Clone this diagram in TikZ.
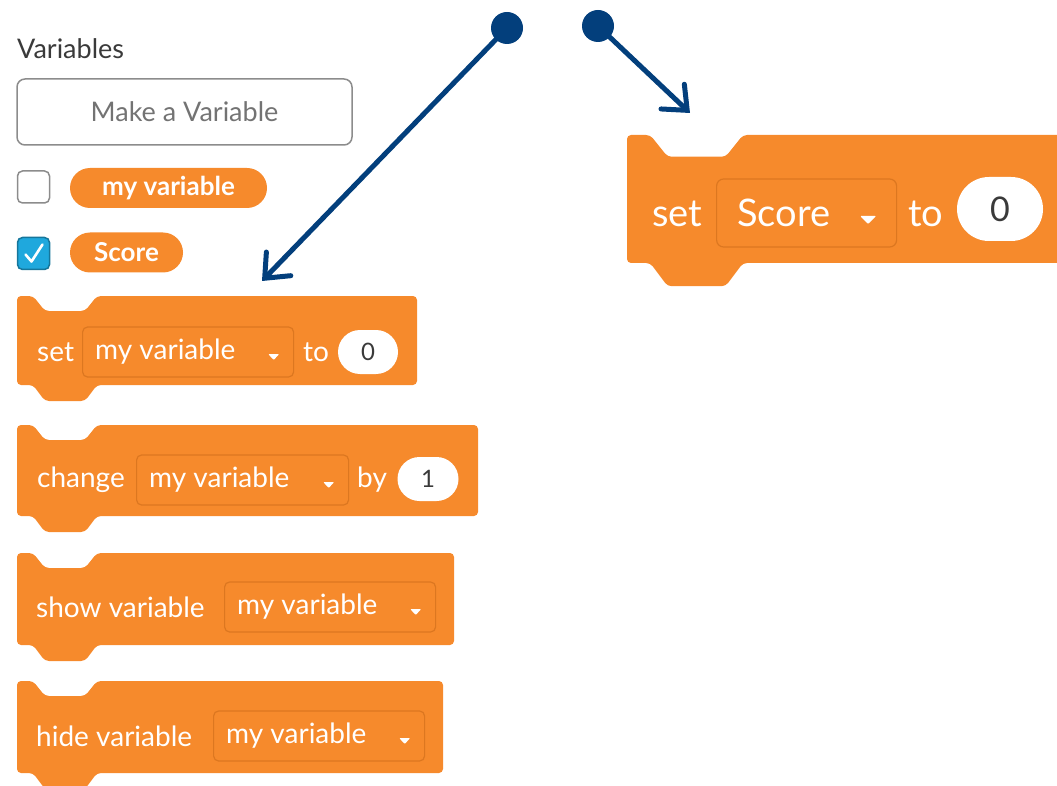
\documentclass[tikz,border=0pt]{standalone}
\usepackage{fontspec}
\setmainfont{Lato}
\usetikzlibrary{arrows.meta, positioning, calc}

\definecolor{blockorange}{HTML}{F68A2C}
\definecolor{blockedge}{HTML}{DC7720}
\definecolor{arrowblue}{HTML}{033F7C}
\definecolor{checkblue}{HTML}{1FA8DD}
\definecolor{btngray}{HTML}{8C8C8C}
\definecolor{inkgray}{HTML}{3A3A3A}

% block outline: left, top, right, bottom, scale of the notch
\newcommand{\scratchblock}[5]{%
  \fill[blockorange, rounded corners=4pt]
    (#1,#4) -- (#1,#2) -- ({#1+16*#5},#2) -- ({#1+28*#5},{#2+15*#5})
    -- ({#1+68*#5},{#2+15*#5}) -- ({#1+80*#5},#2) -- (#3,#2) -- (#3,#4)
    -- ({#1+80*#5},#4) -- ({#1+68*#5},{#4+16*#5}) -- ({#1+28*#5},{#4+16*#5})
    -- ({#1+16*#5},#4) -- cycle;}

\begin{document}
\begin{tikzpicture}[
        x=1pt, y=-1pt,
        blocktext/.style={text=white, font=\fontsize{28}{30}\selectfont, inner sep=0pt, anchor=west},
        bigtext/.style={text=white, font=\fontsize{38}{40}\selectfont, inner sep=0pt, anchor=west},
        dropbox/.style={draw=blockedge, line width=1.2pt, fill=blockorange, rounded corners=5pt,
            minimum height=50, inner sep=0pt, anchor=west},
        valueoval/.style={fill=white, minimum width=60, minimum height=44, rounded corners=22pt,
            text=inkgray, font=\fontsize{24}{26}\selectfont, inner sep=0pt},
        pill/.style={fill=blockorange, rounded corners=20pt, minimum height=40, inner sep=0pt,
            text=white, font=\fontsize{26}{28}\selectfont\bfseries},
        checkbox/.style={draw=btngray, line width=1.5pt, rounded corners=5pt, minimum size=32, inner sep=0pt},
        dot/.style={circle, fill=arrowblue, minimum size=32, inner sep=0pt},
        pointer/.style={arrowblue, line width=5pt, -{Straight Barb[length=20pt, width=34pt, line cap=round]}}
    ]
        \useasboundingbox (0,0) rectangle (1057,786);
        \clip (0,0) rectangle (1057,786);

        % palette header
        \node[anchor=west, inner sep=0pt, text=inkgray, font=\fontsize{27}{29}\selectfont] (heading) at (17,49) {Variables};
        \node[draw=btngray, line width=1.5pt, rounded corners=8pt, minimum width=335, minimum height=66,
            text=gray!90!black, font=\fontsize{27}{29}\selectfont] (makebtn) at (184.5,112) {Make a Variable};

        % variable reporters
        \node[checkbox] (boxA) at (33.5,187) {};
        \node[checkbox, fill=checkblue, draw=checkblue!70!black] (boxB) at (33.5,253.5) {};
        \draw[white, line width=2.6pt, line cap=round, line join=round]
            ($(boxB.center)+(-8,1)$) -- ($(boxB.center)+(-2,8)$) -- ($(boxB.center)+(9,-9)$);
        \node[pill, minimum width=197] (pillA) at (168.5,188) {my variable};
        \node[pill, minimum width=113] (pillB) at (126.5,252.5) {Score};

        % command blocks
        \foreach \t/\b/\r in {296/385/417, 425/516/478, 553/645/454, 681/773/443} {
            \scratchblock{17}{\t}{\r}{\b}{1}
        }

        \node[blocktext] (setA) at (37,352) {set};
        \node[dropbox, minimum width=211] (dropA) at (82,352) {};
        \node[blocktext] (toA) at (303,352) {to};
        \node[valueoval] (valA) at (368,352) {0};

        \node[blocktext] (changeB) at (37,480) {change};
        \node[dropbox, minimum width=212] (dropB) at (136,480) {};
        \node[blocktext] (byB) at (357,480) {by};
        \node[valueoval, minimum width=61] (valB) at (428,479) {1};

        \node[blocktext] (showC) at (36,607) {show variable};
        \node[dropbox, minimum width=211] (dropC) at (224,607) {};

        \node[blocktext] (hideD) at (36,736) {hide variable};
        \node[dropbox, minimum width=211] (dropD) at (213,736) {};

        \foreach \d in {dropA, dropB, dropC, dropD} {
            \node[blocktext] (\d txt) at ([xshift=13]\d.west) {my variable};
            \fill[white, rounded corners=1pt] ($(\d.east)+(-26,2)$) -- ++(11,0) -- ++(-5.5,6) -- cycle;
        }

        % enlarged block
        \scratchblock{627}{135}{1080}{263}{1.45}
        \node[bigtext] (setR) at (652,214) {set};
        \node[dropbox, minimum width=180, minimum height=68, rounded corners=7pt] (dropR) at (716,213) {};
        \node[bigtext] (dropRtxt) at ([xshift=21]dropR.west) {Score};
        \fill[white, rounded corners=1pt] ($(dropR.east)+(-37,3)$) -- ++(16,0) -- ++(-8,8) -- cycle;
        \node[bigtext] (toR) at (908,214) {to};
        \node[valueoval, minimum width=86, minimum height=64, rounded corners=32pt,
            font=\fontsize{34}{36}\selectfont] (valR) at (1000,209) {0};

        % pointers
        \node[dot] (dotL) at (507,28) {};
        \node[dot] (dotR) at (598,26) {};
        \coordinate (tipL) at (262,281);
        \coordinate (tipR) at (690,113);
        \draw[pointer] (dotL.center) -- (tipL);
        \draw[pointer] (dotR.center) -- (tipR);
    \end{tikzpicture}
\end{document}
